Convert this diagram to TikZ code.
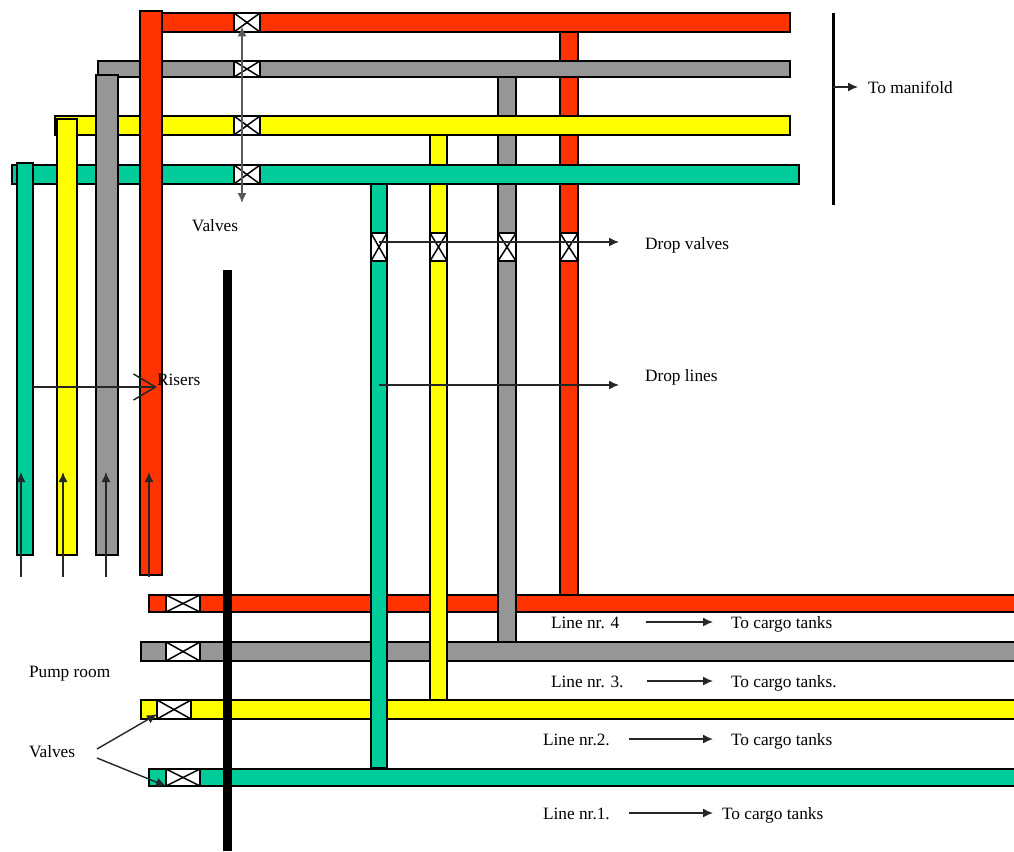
\documentclass[tikz,border=0pt]{standalone}
\usepackage{fontspec}
\setmainfont{Liberation Serif}
\usetikzlibrary{arrows.meta,calc}
\definecolor{linered}{HTML}{FF3300}
\definecolor{linegrey}{HTML}{969696}
\definecolor{lineyellow}{HTML}{FFFF00}
\definecolor{linegreen}{HTML}{00CC99}
\begin{document}
\begin{tikzpicture}[
    x=1pt, y=-1pt,
    font=\fontsize{17.3}{20}\selectfont,
    pipe/.style={draw=black, line width=1.2pt, rectangle, inner sep=0pt, outer sep=0pt},
    valve/.style={pipe, fill=white, path picture={
        \draw[line width=1.5pt] (path picture bounding box.north west) -- (path picture bounding box.south east);
        \draw[line width=1.5pt] (path picture bounding box.south west) -- (path picture bounding box.north east);}},
    label/.style={inner sep=0pt, outer sep=0pt, text height=15pt, text depth=2pt},
    flow/.style={draw=black!85, line width=1.4pt, -{Latex[length=10pt,width=9pt]}}
]
\useasboundingbox (0,0) rectangle (1014,851);
\clip (0,0) rectangle (1014,851);

\node[pipe, fill=linered, minimum width=869pt, minimum height=17pt] (b_red) at (583.5,603.5) {};
\node[pipe, fill=linegrey, minimum width=877pt, minimum height=19pt] (b_grey) at (579.5,651.5) {};
\node[pipe, fill=lineyellow, minimum width=877pt, minimum height=19pt] (b_yellow) at (579.5,709.5) {};
\node[pipe, fill=linegreen, minimum width=869pt, minimum height=17pt] (b_green) at (583.5,777.5) {};

\node[pipe, fill=linered, minimum width=18pt, minimum height=563pt] (d_red) at (569,313.5) {};
\node[pipe, fill=linegrey, minimum width=18pt, minimum height=565pt] (d_grey) at (507,359.5) {};
\node[pipe, fill=lineyellow, minimum width=17pt, minimum height=565pt] (d_yellow) at (438.5,417.5) {};
\node[pipe, fill=linegreen, minimum width=16pt, minimum height=584pt] (d_green) at (379,476) {};

\node[pipe, fill=linered, minimum width=645pt, minimum height=19pt] (h_red) at (467.5,22.5) {};
\node[pipe, fill=linegrey, minimum width=692pt, minimum height=16pt] (h_grey) at (444,69) {};
\node[pipe, fill=lineyellow, minimum width=735pt, minimum height=19pt] (h_yellow) at (422.5,125.5) {};
\node[pipe, fill=linegreen, minimum width=787pt, minimum height=19pt] (h_green) at (405.5,174.5) {};

\node[pipe, fill=linegreen, minimum width=16pt, minimum height=392pt] (r_green) at (25,359) {};
\node[pipe, fill=lineyellow, minimum width=20pt, minimum height=436pt] (r_yellow) at (67,337) {};
\node[pipe, fill=linegrey, minimum width=22pt, minimum height=480pt] (r_grey) at (107,315) {};
\node[pipe, fill=linered, minimum width=22pt, minimum height=564pt] (r_red) at (151,293) {};

\foreach \n/\y/\h in {red/22.5/19, grey/69/16, yellow/125.5/19, green/174.5/19}
    \node[valve, minimum width=26pt, minimum height=\h pt] (vt_\n) at (247,\y) {};
\foreach \n/\x/\w in {green/379/16, yellow/438.5/17, grey/507/18, red/569/18}
    \node[valve, minimum width=\w pt, minimum height=28pt] (vd_\n) at (\x,247) {};
\foreach \n/\x/\y/\h in {red/183/603.5/17, grey/183/651.5/19, yellow/174/709.5/19, green/183/777.5/17}
    \node[valve, minimum width=34pt, minimum height=\h pt] (vb_\n) at (\x,\y) {};

\draw[line width=9pt] (227,270) -- (227,851);
\coordinate (c_manifold) at (833,87);
\draw[line width=3pt] (833,13) -- (833,205);

\node[label, anchor=west] (l_manifold) at (868,87) {To manifold};
\node[label, anchor=center] (l_valves_top) at (215,225) {Valves};
\node[label, anchor=west] (l_dropvalves) at (645,243) {Drop valves};
\node[label, anchor=west] (l_droplines) at (645,375) {Drop lines};
\node[label, anchor=west] (l_risers) at (157,379) {Risers};
\node[label, anchor=west] (l_pump) at (29,671) {Pump room};
\node[label, anchor=west] (l_valves) at (29,751) {Valves};

\node[label, anchor=west] (l_line4) at (551,622) {Line nr. 4};
\node[label, anchor=west] (t_line4) at (731,622) {To cargo tanks};
\node[label, anchor=west] (l_line3) at (551,681) {Line nr. 3.};
\node[label, anchor=west] (t_line3) at (731,681) {To cargo tanks.};
\node[label, anchor=west] (l_line2) at (543,739) {Line nr.2.};
\node[label, anchor=west] (t_line2) at (731,739) {To cargo tanks};
\node[label, anchor=west] (l_line1) at (543,813) {Line nr.1.};
\node[label, anchor=west] (t_line1) at (722,813) {To cargo tanks};

\draw[flow, shorten >=10pt] (c_manifold) -- (l_manifold.west);

\coordinate (c_valves) at (242,203);
\draw[flow, draw=black!65, {Latex[length=10pt,width=9pt]}-{Latex[length=10pt,width=9pt]}, shorten <=4pt] (vt_red.center -| c_valves) -- (c_valves);

\coordinate (c_dropvalves) at (619,242);
\draw[flow] (vd_green.center |- c_dropvalves) -- (c_dropvalves);
\coordinate (c_droplines) at (619,385);
\draw[flow] (d_green.center |- c_droplines) -- (c_droplines);

\coordinate (c_risers) at (157,387);
\draw[draw=black!85, line width=1.5pt, -{Straight Barb[length=22pt,width=26pt]}] (r_green.east |- c_risers) -- (c_risers);

\foreach \n/\x in {green/21, yellow/63, grey/106, red/149} {
    \coordinate (c_in_\n) at (\x,577);
    \coordinate (c_up_\n) at (\x,472);
    \draw[flow] (c_in_\n) -- (c_up_\n);
}

\draw[flow, shorten <=27pt, shorten >=18pt] (l_line4.east) -- (t_line4.west);
\draw[flow, shorten <=23pt, shorten >=18pt] (l_line3.east) -- (t_line3.west);
\draw[flow, shorten <=19pt, shorten >=18pt] (l_line2.east) -- (t_line2.west);
\draw[flow, shorten <=19pt, shorten >=9pt] (l_line1.east) -- (t_line1.west);

\coordinate (c_valves_a) at (97,749);
\coordinate (c_valves_b) at (97,758);
\draw[flow] (c_valves_a) -- ($(vb_yellow.south west)!.5!(vb_yellow.west)$);
\draw[flow] (c_valves_b) -- (vb_green.south west);

\end{tikzpicture}
\end{document}
